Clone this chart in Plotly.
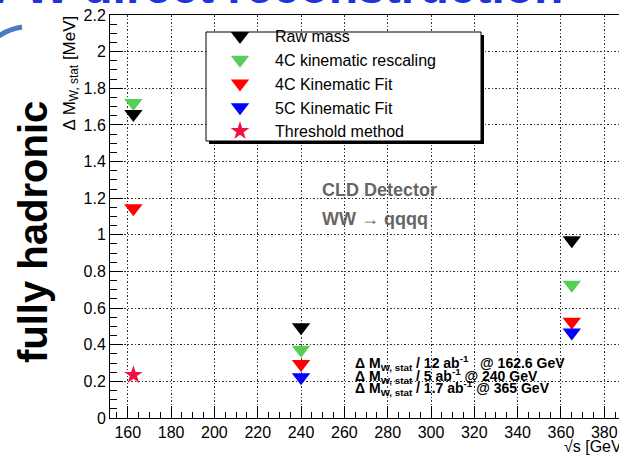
import plotly.graph_objects as go

# ---- data ----
energies = [162.6, 240, 365]
raw_mass = [1.66, 0.495, 0.97]
kin_rescaling_4c = [1.72, 0.372, 0.727]
kin_fit_4c = [1.145, 0.295, 0.525]
energies_5c = [240, 365]
kin_fit_5c = [0.222, 0.467]
threshold_energy = [162.6]
threshold_value = [0.235]

legend_names = ["Raw mass", "4C kinematic rescaling", "4C Kinematic Fit",
                "5C Kinematic Fit", "Threshold method"]
lumi_lines = [
    "Δ M<sub>W, stat</sub> / 12 ab<sup>-1</sup>\u00a0\u00a0 @ 162.6 GeV",
    "Δ M<sub>W, stat</sub> / 5 ab<sup>-1</sup> @ 240 GeV",
    "Δ M<sub>W, stat</sub> / 1.7 ab<sup>-1</sup> @ 365 GeV",
]

W, H = 619, 456
L, R, T, B = 110, 0, 15, 38
PW, PH = W - L - R, H - T - B
X0 = 151.8
XPX = 2.166  # px per GeV
X1 = X0 + PW / XPX

def px(x):
    return (x - L) / PW

def py(y):
    return (H - B - y) / PH

FONT = "Liberation Sans, Arial, Helvetica, sans-serif"

fig = go.Figure()
msize = 16
# draw order: green, red, blue, black (black over green), star
fig.add_trace(go.Scatter(x=energies, y=kin_rescaling_4c, mode="markers", name=legend_names[1],
                         legendrank=2, marker=dict(symbol="triangle-down", size=msize, color="#55cf55")))
fig.add_trace(go.Scatter(x=energies, y=kin_fit_4c, mode="markers", name=legend_names[2],
                         legendrank=3, marker=dict(symbol="triangle-down", size=msize, color="#ff0000")))
fig.add_trace(go.Scatter(x=energies_5c, y=kin_fit_5c, mode="markers", name=legend_names[3],
                         legendrank=4, marker=dict(symbol="triangle-down", size=msize, color="#0000ff")))
fig.add_trace(go.Scatter(x=energies, y=raw_mass, mode="markers", name=legend_names[0],
                         legendrank=1, marker=dict(symbol="triangle-down", size=msize, color="#000000")))
fig.add_trace(go.Scatter(x=threshold_energy, y=threshold_value, mode="markers", name=legend_names[4],
                         legendrank=5, marker=dict(symbol="star", size=14, color="#ee1144")))

grid = dict(showgrid=True, gridcolor="#333333", gridwidth=1, griddash="1.5px,2px")

fig.update_xaxes(range=[X0, X1], dtick=20, tick0=160, ticks="inside", ticklen=12, tickwidth=1,
                 tickcolor="black", showline=True, linecolor="black", linewidth=1, mirror=True,
                 zeroline=False,
                 minor=dict(dtick=5, tick0=160, ticks="inside", ticklen=6, tickcolor="black", showgrid=False),
                 tickfont=dict(family=FONT, size=16, color="black"), **grid)
fig.update_yaxes(range=[0, 2.2], dtick=0.2, tick0=0, ticks="inside", ticklen=13, tickwidth=1,
                 tickcolor="black", showline=True, linecolor="black", linewidth=1, mirror=False,
                 zeroline=False,
                 minor=dict(dtick=0.05, tick0=0, ticks="inside", ticklen=7, tickcolor="black", showgrid=False),
                 tickfont=dict(family=FONT, size=16, color="black"), **grid)

shapes = [
    # legend shadow and box
    dict(type="rect", xref="paper", yref="paper", x0=px(209), x1=px(484), y0=py(144), y1=py(35),
         fillcolor="black", line=dict(width=0), layer="above"),
    dict(type="rect", xref="paper", yref="paper", x0=px(206), x1=px(481), y0=py(141), y1=py(32),
         fillcolor="white", line=dict(color="black", width=1), layer="above"),
    # blue swoosh decoration
    dict(type="path", xref="paper", yref="paper",
         path=f"M {px(-1)},{py(36)} Q {px(9)},{py(29)} {px(22)},{py(27)}",
         fillcolor="rgba(0,0,0,0)",
         line=dict(color="#4a7cc4", width=5), layer="above"),
]

annotations = [
    dict(text="W W direct reconstruction", xref="paper", yref="paper", x=px(565), y=py(15),
         xanchor="right", yanchor="bottom", showarrow=False,
         font=dict(family=FONT, size=48, color="#2233dd", weight="bold")),
    dict(text="fully hadronic", xref="paper", yref="paper", x=px(33), y=py(232),
         xanchor="center", yanchor="middle", textangle=-90, showarrow=False,
         font=dict(family=FONT, size=40, color="black", weight="bold")),
    dict(text="Δ M<sub>W, stat</sub> [MeV]", xref="paper", yref="paper", x=px(70), y=py(14),
         xanchor="center", yanchor="top", textangle=-90, showarrow=False,
         font=dict(family=FONT, size=17, color="black")),
    dict(text="√s [GeV]", xref="paper", yref="paper", x=px(562), y=py(446),
         xanchor="left", yanchor="middle", showarrow=False,
         font=dict(family=FONT, size=16, color="black")),
    dict(text="CLD Detector", xref="paper", yref="paper", x=px(320), y=py(190),
         xanchor="left", yanchor="middle", showarrow=False,
         font=dict(family=FONT, size=18, color="#666666", weight="bold")),
    dict(text="WW → qqqq", xref="paper", yref="paper", x=px(320), y=py(219),
         xanchor="left", yanchor="middle", showarrow=False,
         font=dict(family=FONT, size=18, color="#666666", weight="bold")),
]
for i, (t, yc) in enumerate(zip(lumi_lines, [363, 376, 388])):
    annotations.append(dict(text=t, xref="paper", yref="paper", x=px(353), y=py(yc),
                            xanchor="left", yanchor="middle", showarrow=False,
                            font=dict(family=FONT, size=14, color="black", weight="bold")))

fig.update_layout(
    width=W, height=H,
    margin=dict(l=L, r=R, t=T, b=B),
    paper_bgcolor="white", plot_bgcolor="white",
    showlegend=True,
    legend=dict(x=px(205), y=py(19), xanchor="left", yanchor="top",
                bgcolor="rgba(0,0,0,0)", borderwidth=0, itemwidth=60,
                font=dict(family=FONT, size=16, color="black")),
    shapes=shapes, annotations=annotations,
)

fig.write_html("out.html", config={"displayModeBar": False})
